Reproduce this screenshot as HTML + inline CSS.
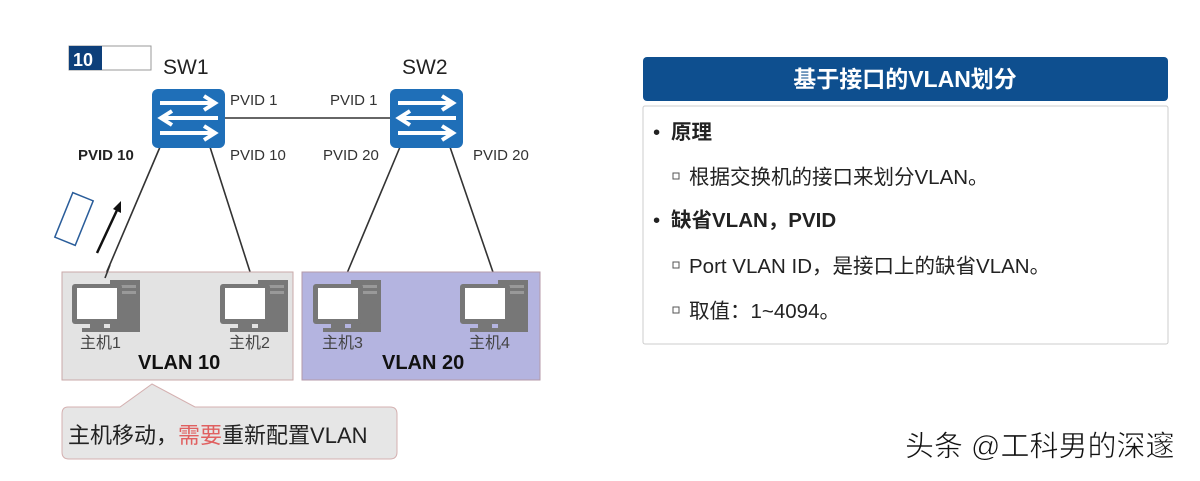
<!DOCTYPE html>
<html><head><meta charset="utf-8"><style>
body{margin:0;background:#fff;width:1200px;height:476px;overflow:hidden;font-family:"Liberation Sans","Noto Sans CJK SC",sans-serif}
</style></head><body>
<svg width="1200" height="476" xmlns="http://www.w3.org/2000/svg" font-family="Liberation Sans, Noto Sans CJK SC, sans-serif">
<defs>
<g id="sw">
<rect x="0" y="0" width="73" height="59" rx="6" fill="#1f6fb8"/>
<g stroke="#fff" stroke-width="4" fill="none">
<line x1="8" y1="14" x2="62" y2="14"/><polyline points="52,7 63,14 52,21"/>
<line x1="12" y1="29" x2="66" y2="29"/><polyline points="20,22 9,29 20,36"/>
<line x1="8" y1="44" x2="62" y2="44"/><polyline points="52,37 63,44 52,51"/>
</g></g>
<g id="pc">
<rect x="38" y="0" width="30" height="52" fill="#777"/>
<rect x="42" y="5" width="22" height="3" fill="#999"/>
<rect x="42" y="11" width="22" height="3" fill="#999"/>
<rect x="0" y="4" width="50" height="40" rx="3" fill="#777"/>
<rect x="5" y="8" width="40" height="31" fill="#fff"/>
<rect x="18" y="44" width="14" height="4" fill="#777"/>
<rect x="10" y="48" width="32" height="4" fill="#777"/>
</g>
</defs>
<rect x="69" y="46" width="82" height="24" fill="#fff" stroke="#999"/>
<rect x="69" y="46" width="33" height="24" fill="#0d3f7a"/>
<text x="73" y="66" font-size="18" font-weight="bold" fill="#fff">10</text>
<text x="163" y="74" font-size="21" fill="#222">SW1</text>
<text x="402" y="74" font-size="21" fill="#222">SW2</text>
<g stroke="#333" stroke-width="1.6">
<line x1="225" y1="118" x2="390" y2="118"/>
<line x1="160" y1="147" x2="105" y2="276"/>
<line x1="210" y1="147" x2="252" y2="278"/>
<line x1="400" y1="147" x2="345" y2="278"/>
<line x1="450" y1="147" x2="495" y2="278"/>
</g>
<use href="#sw" x="152" y="89"/>
<use href="#sw" x="390" y="89"/>
<g font-size="15" fill="#333">
<text x="230" y="105">PVID 1</text>
<text x="330" y="105">PVID 1</text>
<text x="230" y="160">PVID 10</text>
<text x="323" y="160">PVID 20</text>
<text x="473" y="160">PVID 20</text>
<text x="78" y="160" font-weight="bold" fill="#222">PVID 10</text>
</g>
<rect x="63" y="195" width="22" height="48" fill="#fff" stroke="#2a5d9a" stroke-width="1.5" transform="rotate(22 74 219)"/>
<line x1="97" y1="253" x2="118" y2="208" stroke="#111" stroke-width="2.5"/>
<polygon points="121,201 121,213 113,209" fill="#111"/>
<rect x="62" y="272" width="231" height="108" fill="#e3e3e3" stroke="#c9a9a9"/>
<rect x="302" y="272" width="238" height="108" fill="#b4b4e0" stroke="#b59aa8"/>
<line x1="110" y1="265" x2="105" y2="278" stroke="#333" stroke-width="1.6"/>
<use href="#pc" x="72" y="280"/>
<use href="#pc" x="220" y="280"/>
<use href="#pc" x="313" y="280"/>
<use href="#pc" x="460" y="280"/>
<g font-size="16" fill="#444">
<text x="80" y="348">主机1</text><text x="229" y="348">主机2</text>
<text x="322" y="348">主机3</text><text x="469" y="348">主机4</text>
</g>
<text x="138" y="369" font-size="20" font-weight="bold" fill="#111">VLAN 10</text>
<text x="382" y="369" font-size="20" font-weight="bold" fill="#111">VLAN 20</text>
<path d="M68 407 H120 L152 384 L195 407 H390 Q397 407 397 414 V452 Q397 459 390 459 H69 Q62 459 62 452 V414 Q62 407 68 407 Z" fill="#e6e6e6" stroke="#d4b0b0"/>
<text x="68" y="443" font-size="22" fill="#222">主机移动，<tspan fill="#e06060">需要</tspan>重新配置VLAN</text>
<rect x="643" y="57" width="525" height="44" rx="4" fill="#0e4f8f"/>
<text x="905" y="87" font-size="23" font-weight="bold" fill="#fff" text-anchor="middle">基于接口的VLAN划分</text>
<rect x="643" y="106" width="525" height="238" rx="2" fill="#fff" stroke="#ccc"/>
<g font-size="20.5" fill="#222">
<text x="653" y="139">•</text><text x="671" y="139" font-weight="bold">原理</text>
<rect x="673" y="173" width="6" height="6" fill="none" stroke="#555"/><text x="689" y="184">根据交换机的接口来划分VLAN。</text>
<text x="653" y="227">•</text><text x="671" y="227" font-weight="bold">缺省VLAN，PVID</text>
<rect x="673" y="262" width="6" height="6" fill="none" stroke="#555"/><text x="689" y="273">Port VLAN ID，是接口上的缺省VLAN。</text>
<rect x="673" y="307" width="6" height="6" fill="none" stroke="#555"/><text x="689" y="318">取值：1~4094。</text>
</g>
<text x="905" y="456" font-size="29" fill="#111" stroke="#fff" stroke-width="0.6">头条 @工科男的深邃</text>
</svg>
</body></html>
